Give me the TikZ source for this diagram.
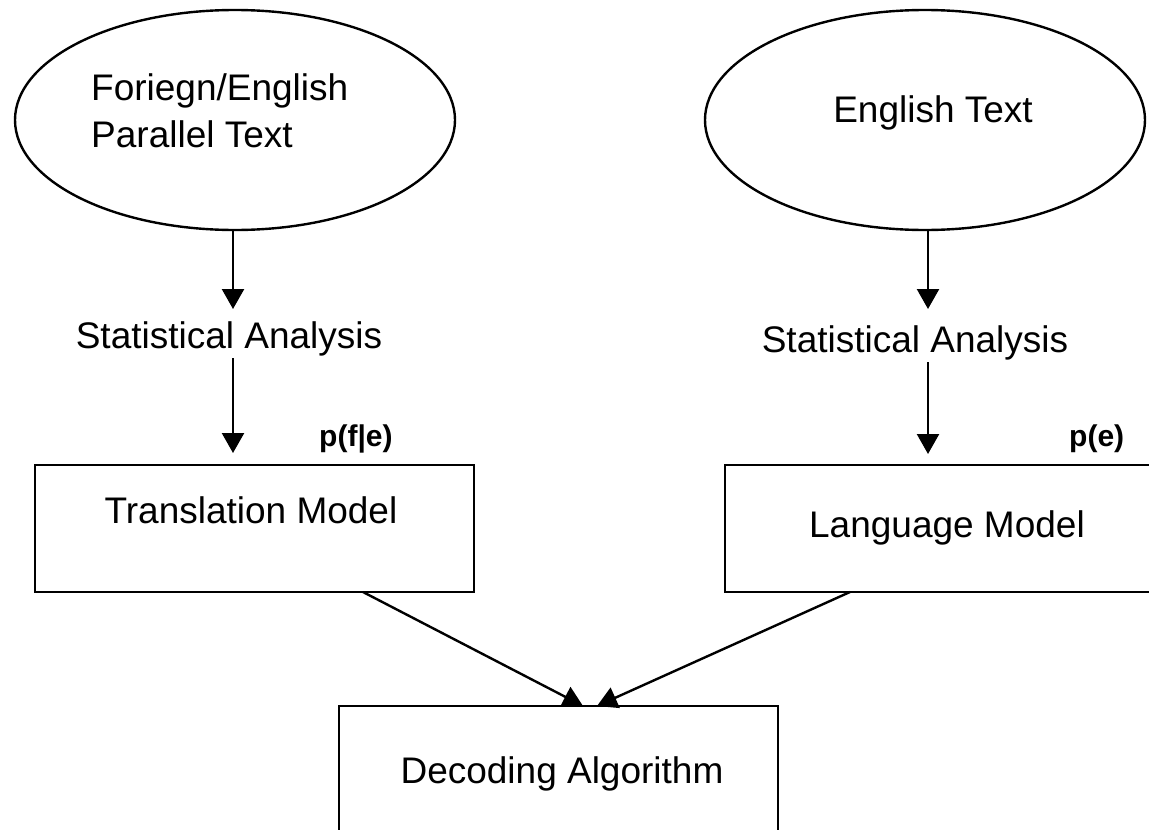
\documentclass[tikz,border=0pt]{standalone}
\usepackage{fontspec}
\setmainfont{Liberation Sans}
\usetikzlibrary{arrows.meta,shapes.geometric}
\begin{document}
\begin{tikzpicture}[x=1pt,y=-1pt,
  line width=2.4pt,
  txt/.style={font=\fontsize{37}{47}\selectfont, inner sep=0pt, anchor=base},
  prob/.style={font=\fontsize{30}{36}\selectfont\bfseries, inner sep=0pt, anchor=base west},
  src/.style={draw, ellipse, minimum width=440pt, minimum height=220pt, inner sep=0pt},
  boxnode/.style={draw, rectangle, inner sep=0pt},
  flow/.style={draw, -{Triangle[length=20pt,width=22pt]}}]
\clip (0,0) rectangle (1149,830);
\fill[white] (0,0) rectangle (1149,830);

% sources
\node[src] (par) at (235,120) {};
\node[txt, anchor=base west, align=left] (partxt) at (90,100) {Foriegn/English};
\node[txt, anchor=base west] (partxt2) at (90,147) {Parallel Text};
\node[src] (eng) at (925,120) {};
\node[txt] (engtxt) at (933,122) {English Text};

% analysis labels
\node[txt] (sa1) at (229,348) {Statistical Analysis};
\node[txt] (sa2) at (915,352) {Statistical Analysis};

% probability labels
\node[prob] (pfe) at (318,446) {p(f|e)};
\node[prob] (pe) at (1068,446) {p(e)};

% models
\node[boxnode, minimum width=439pt, minimum height=127pt] (tm) at (254.5,528.5) {};
\node[txt] (tmtxt) at (251,523) {Translation Model};
\node[boxnode, minimum width=440pt, minimum height=127pt] (lm) at (945,528.5) {};
\node[txt] (lmtxt) at (947,537) {Language Model};
\node[boxnode, minimum width=439pt, minimum height=150pt] (dec) at (558.5,781) {};
\node[txt] (dectxt) at (562,783) {Decoding Algorithm};

% connector end points
\coordinate (a1) at (233,309);
\coordinate (b1s) at (233,358);
\coordinate (b1) at (233,453);
\coordinate (a2) at (928,309);
\coordinate (b2s) at (928,362);
\coordinate (b2) at (928,454);
\coordinate (tmout) at (363,592);
\coordinate (lmout) at (850,592);
\coordinate (in1) at (583,706);
\coordinate (in2) at (597,706);

\draw[flow] (par.south -| a1) -- (a1);
\draw[flow] (b1s) -- (b1);
\draw[flow] (eng.south -| a2) -- (a2);
\draw[flow] (b2s) -- (b2);
\draw[flow] (tmout) -- (in1);
\draw[flow] (lmout) -- (in2);
\end{tikzpicture}
\end{document}
